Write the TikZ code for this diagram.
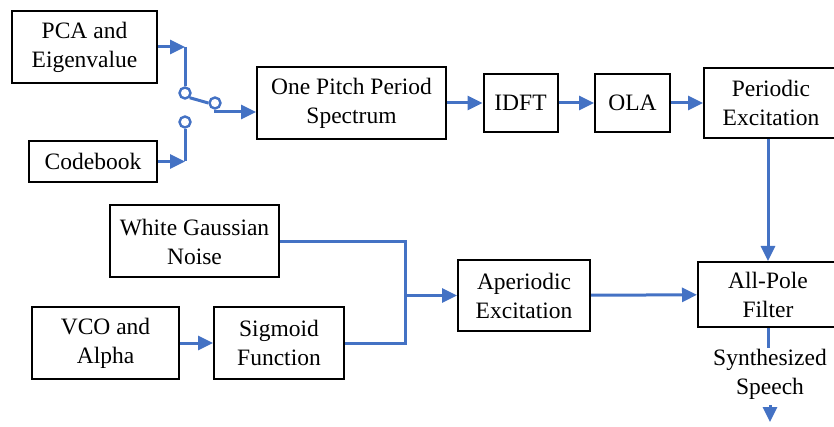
\documentclass[tikz,border=0pt]{standalone}
\usepackage{fontspec}
\setmainfont{Liberation Serif}
\usetikzlibrary{arrows.meta}
\definecolor{linkblue}{HTML}{4472C4}

\begin{document}
\begin{tikzpicture}[x=1pt, y=-1pt,
    blk/.style={draw, line width=2pt, align=center, inner sep=0pt, font=\fontsize{23.5}{29}\selectfont},
    arr/.style={-{Triangle[length=15pt, width=14pt]}, linkblue, line width=3pt},
    wire/.style={linkblue, line width=3pt},
    pin/.style={circle, draw=linkblue, line width=2.4pt, fill=white, minimum size=11pt, inner sep=0pt}
]
\useasboundingbox (0,0) rectangle (834,427);
\clip (0,0) rectangle (834,427);

% blocks
\node[blk, minimum width=145pt, minimum height=72pt] (pca) at (84.5,47) {PCA and\\Eigenvalue};
\node[blk, minimum width=128pt, minimum height=41pt] (cb) at (93,161.5) {Codebook};
\node[blk, minimum width=189pt, minimum height=72pt] (spec) at (351.5,103) {One Pitch Period\\Spectrum};
\node[blk, minimum width=74pt, minimum height=58pt] (idft) at (520.5,103) {IDFT};
\node[blk, minimum width=75pt, minimum height=58pt] (ola) at (632.5,103) {OLA};
\node[blk, minimum width=134pt, minimum height=70pt] (pex) at (771,103) {Periodic\\Excitation};
\node[blk, minimum width=169pt, minimum height=72pt] (wgn) at (194.5,241.5) {White Gaussian\\Noise};
\node[blk, minimum width=147pt, minimum height=72pt] (vco) at (105.5,343) {VCO and\\Alpha};
\node[blk, minimum width=130pt, minimum height=72pt] (sig) at (279,343) {Sigmoid\\Function};
\node[blk, minimum width=132pt, minimum height=71pt] (apex) at (524,295.5) {Aperiodic\\Excitation};
\node[blk, minimum width=140pt, minimum height=65pt] (apf) at (768,294.5) {All-Pole\\Filter};
\node[font=\fontsize{23.5}{29}\selectfont, align=center, inner sep=0pt] (out) at (770,374) {Synthesized\\Speech};

% switch
\node[pin] (s1) at (185,93) {};
\node[pin] (s2) at (185,122) {};
\node[pin] (s3) at (215,103) {};
\coordinate (pj) at (185,47);
\coordinate (cj) at (185,161.5);
\coordinate (mj) at (405,295.5);
\coordinate (sp) at (770,422);

\draw[arr] (pca.east) -- (pj);
\draw[wire] (pj) -- (s1.north);
\draw[arr] (cb.east) -- (cj);
\draw[wire] (cj) -- (s2.south);
\draw[wire] (s1.south east) -- (s3.west);
\draw[arr] (s3.south) |- ([yshift=-9pt]spec.west);

% periodic chain
\draw[arr] (spec) -- (idft);
\draw[arr] (idft) -- (ola);
\draw[arr] (ola) -- (pex);
\draw[arr] (pex.south -| apf.north) -- (apf.north);

% aperiodic chain
\draw[arr] (vco) -- (sig);
\draw[wire] (wgn.east) -| (mj);
\draw[wire] (sig.east) -| (mj);
\draw[arr] (mj) -- (apex.west);
\draw[arr] (apex) -- (apf);

% output
\draw[wire] (apf.south) -- ++(0,20);
\draw[arr] ([yshift=-6pt]out.south) -- (sp);
\end{tikzpicture}
\end{document}
